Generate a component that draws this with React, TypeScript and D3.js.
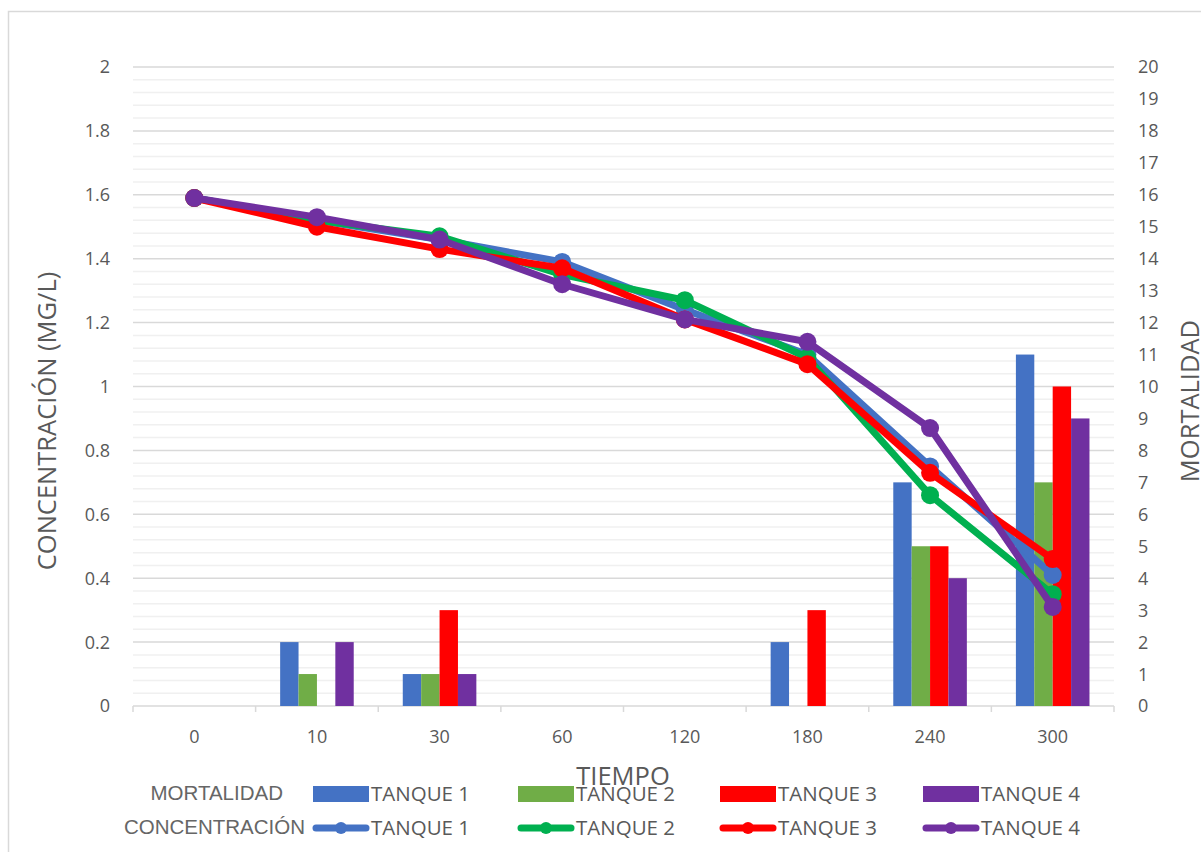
import React from "react";
import * as d3 from "d3";

const categories = ["0", "10", "30", "60", "120", "180", "240", "300"];
const seriesNames = ["TANQUE 1", "TANQUE 2", "TANQUE 3", "TANQUE 4"];

// Mortalidad (right axis), per tank
const mortT1 = [0, 2, 1, 0, 0, 2, 7, 11];
const mortT2 = [0, 1, 1, 0, 0, 0, 5, 7];
const mortT3 = [0, 0, 3, 0, 0, 3, 5, 10];
const mortT4 = [0, 2, 1, 0, 0, 0, 4, 9];

// Concentración mg/L (left axis), per tank
const concT1 = [1.59, 1.52, 1.46, 1.39, 1.24, 1.1, 0.75, 0.41];
const concT2 = [1.59, 1.52, 1.47, 1.35, 1.27, 1.09, 0.66, 0.35];
const concT3 = [1.59, 1.5, 1.43, 1.37, 1.21, 1.07, 0.73, 0.46];
const concT4 = [1.59, 1.53, 1.46, 1.32, 1.21, 1.14, 0.87, 0.31];

const leftTicks = [0, 0.2, 0.4, 0.6, 0.8, 1, 1.2, 1.4, 1.6, 1.8, 2];
const rightTicks = d3.range(0, 21);

const barColors = ["#4472C4", "#70AD47", "#FF0000", "#7030A0"];
const lineColors = ["#4472C4", "#00B050", "#FF0000", "#7030A0"];

const W = 1201;
const H = 852;
const plot = { left: 133, right: 1114, top: 67, bottom: 706 };
const FONT = "'Open Sans', 'Noto Sans', sans-serif";
const ARIAL = "'Liberation Sans', Arial, sans-serif";
const TXT = "#595959";

export default function App() {
  const mort = [mortT1, mortT2, mortT3, mortT4];
  const conc = [concT1, concT2, concT3, concT4];

  const x = d3.scaleBand<string>().domain(categories).range([plot.left, plot.right]);
  const bw = x.bandwidth();
  const groupW = bw * 0.6;
  const xInner = d3.scaleBand<string>().domain(seriesNames).range([-groupW / 2, groupW / 2]);
  const yL = d3.scaleLinear().domain([0, 2]).range([plot.bottom, plot.top]);
  const yR = d3.scaleLinear().domain([0, 20]).range([plot.bottom, plot.top]);
  const cx = (c: string) => (x(c) as number) + bw / 2;

  const minorTicks = d3.range(0, 2.0001, 0.04).filter((v) => Math.abs(v / 0.2 - Math.round(v / 0.2)) > 1e-6);

  const line = d3
    .line<number>()
    .x((_, i) => cx(categories[i]))
    .y((d) => yL(d));

  const legendX = [313, 518, 720, 923];
  const row1 = 794;
  const row2 = 828;

  return (
    <svg width={W} height={H} style={{ position: "absolute", left: 0, top: 0, background: "#fff" }}>
      <rect x={8.5} y={11.5} width={1210} height={860} fill="#fff" stroke="#d9d9d9" strokeWidth={1.5} />

      {/* minor gridlines */}
      {minorTicks.map((v) => (
        <line key={"m" + v} x1={plot.left} x2={plot.right} y1={yL(v)} y2={yL(v)} stroke="#f0f0f0" strokeWidth={1.5} />
      ))}
      {/* major gridlines */}
      {leftTicks.map((v) =>
        v === 0 ? null : (
          <line key={"g" + v} x1={plot.left} x2={plot.right} y1={yL(v)} y2={yL(v)} stroke="#d9d9d9" strokeWidth={1.5} />
        )
      )}

      {/* category axis */}
      <line x1={plot.left} x2={plot.right} y1={plot.bottom} y2={plot.bottom} stroke="#d9d9d9" strokeWidth={1.5} />
      {categories.map((c) => (
        <line key={"t" + c} x1={x(c)} x2={x(c)} y1={plot.bottom} y2={plot.bottom + 6} stroke="#d9d9d9" strokeWidth={1.5} />
      ))}
      <line x1={plot.right} x2={plot.right} y1={plot.bottom} y2={plot.bottom + 6} stroke="#d9d9d9" strokeWidth={1.5} />

      {/* bars: mortalidad */}
      {mort.map((vals, s) =>
        vals.map((v, i) =>
          v > 0 ? (
            <rect
              key={`b${s}-${i}`}
              x={cx(categories[i]) + (xInner(seriesNames[s]) as number)}
              width={xInner.bandwidth()}
              y={yR(v)}
              height={yR(0) - yR(v)}
              fill={barColors[s]}
            />
          ) : null
        )
      )}

      {/* lines: concentración */}
      {conc.map((vals, s) => (
        <g key={"l" + s}>
          <path d={line(vals) as string} fill="none" stroke={lineColors[s]} strokeWidth={7} strokeLinejoin="round" />
          {vals.map((v, i) => (
            <circle key={i} cx={cx(categories[i])} cy={yL(v)} r={9} fill={lineColors[s]} />
          ))}
        </g>
      ))}

      {/* left axis labels */}
      {leftTicks.map((v) => (
        <text key={"yl" + v} x={110} y={yL(v)} dy="0.36em" textAnchor="end" fontFamily={FONT} fontSize={18} fill={TXT}>
          {String(v)}
        </text>
      ))}
      {/* right axis labels */}
      {rightTicks.map((v) => (
        <text key={"yr" + v} x={1138} y={yR(v)} dy="0.36em" textAnchor="start" fontFamily={FONT} fontSize={18} fill={TXT}>
          {String(v)}
        </text>
      ))}
      {/* category labels */}
      {categories.map((c) => (
        <text key={"c" + c} x={cx(c)} y={737} dy="0.36em" textAnchor="middle" fontFamily={FONT} fontSize={18} fill={TXT}>
          {c}
        </text>
      ))}

      {/* axis titles */}
      <text transform={`translate(56,421) rotate(-90)`} textAnchor="middle" fontFamily={FONT} fontSize={25.5} fill={TXT}>
        CONCENTRACIÓN (MG/L)
      </text>
      <text transform={`translate(1199,401) rotate(-90)`} textAnchor="middle" fontFamily={FONT} fontSize={25.5} fill={TXT}>
        MORTALIDAD
      </text>
      <text x={623} y={785} textAnchor="middle" fontFamily={FONT} fontSize={25.5} fill={TXT}>
        TIEMPO
      </text>

      {/* legend */}
      <text x={283} y={row1 - 1} dy="0.36em" textAnchor="end" fontFamily={ARIAL} fontSize={20.5} fill="#666666">
        MORTALIDAD
      </text>
      <text x={305} y={row2 - 1} dy="0.36em" textAnchor="end" fontFamily={ARIAL} fontSize={20.5} fill="#666666">
        CONCENTRACIÓN
      </text>
      {seriesNames.map((name, s) => (
        <g key={"lg" + s}>
          <rect x={legendX[s]} y={row1 - 8} width={56} height={16} fill={barColors[s]} />
          <text x={legendX[s] + 58} y={row1} dy="0.36em" fontFamily={FONT} fontSize={20.5} fill={TXT}>
            {name}
          </text>
          <line x1={legendX[s] + 3} x2={legendX[s] + 53} y1={row2} y2={row2} stroke={lineColors[s]} strokeWidth={7} strokeLinecap="round" />
          <circle cx={legendX[s] + 28} cy={row2} r={6} fill={lineColors[s]} />
          <text x={legendX[s] + 58} y={row2} dy="0.36em" fontFamily={FONT} fontSize={20.5} fill={TXT}>
            {name}
          </text>
        </g>
      ))}
    </svg>
  );
}
